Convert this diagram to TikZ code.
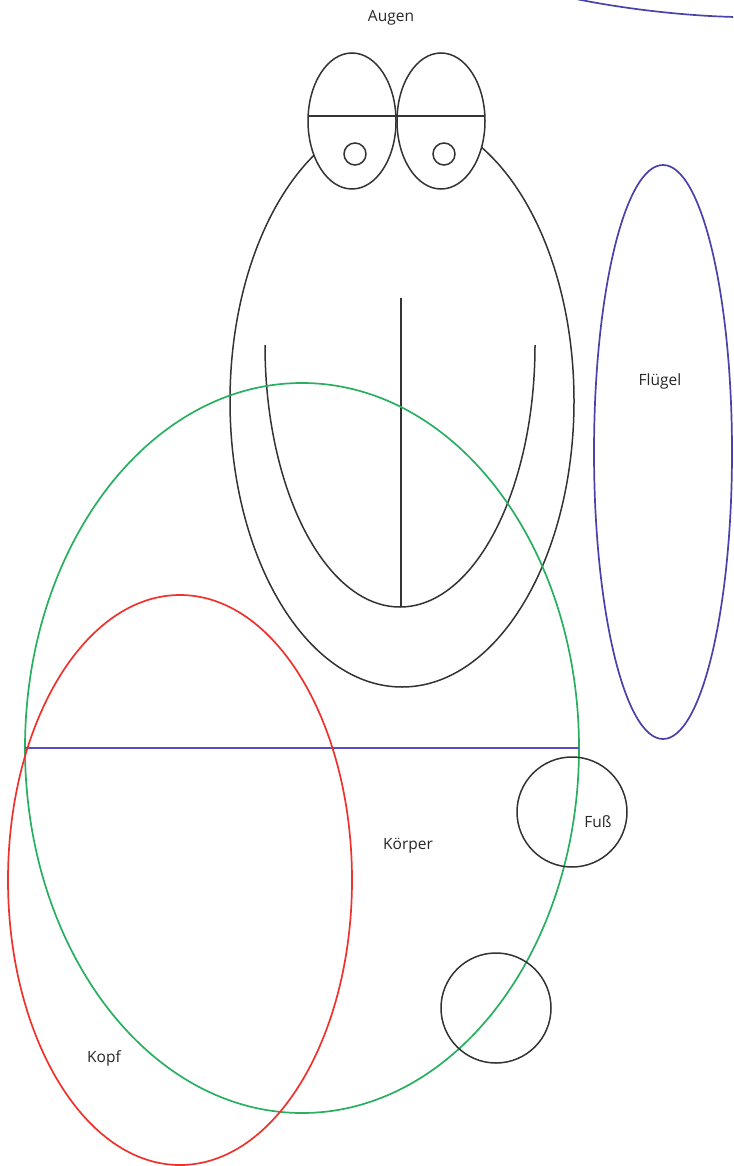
\documentclass[tikz,border=0pt]{standalone}
\usepackage{fontspec}
\setmainfont{Open Sans}
\begin{document}
\begin{tikzpicture}[x=1pt,y=-1pt,
  outl/.style={draw=black!80,line width=1.5pt},
  greenl/.style={draw={rgb,255:red,40;green,175;blue,95},line width=1.7pt},
  redl/.style={draw={rgb,255:red,240;green,50;blue,45},line width=1.7pt},
  bluel/.style={draw={rgb,255:red,85;green,80;blue,190},line width=1.7pt},
  purpl/.style={draw={rgb,255:red,75;green,65;blue,170},line width=1.7pt},
  lbl/.style={font=\fontsize{15.5}{17}\selectfont,text=black!85,inner sep=0pt}]
\useasboundingbox (0,0) rectangle (733,1166);
\clip (0,0) rectangle (733,1166);
% body
\draw[outl] (402,401) ellipse [x radius=172pt, y radius=286pt];
% mouth
\draw[outl] (265,345) arc[start angle=180, end angle=360, x radius=135pt, y radius=262pt];
\draw[outl] (401,298) -- (401,607);
% eyes
\draw[outl,fill=white] (352,121) ellipse [x radius=44pt, y radius=68pt];
\draw[outl,fill=white] (441,121) ellipse [x radius=44pt, y radius=68pt];
\draw[outl] (308,116) -- (485,116);
\draw[outl] (355,154) circle [radius=11pt];
\draw[outl] (444,154) circle [radius=11pt];
% wing
\draw[purpl] (663,452) ellipse [x radius=69pt, y radius=287pt];
% top-right arc
\draw[purpl] (576,-1) .. controls (630,10) and (690,16) .. (735,17);
% body green
\draw[greenl] (302,748) ellipse [x radius=277pt, y radius=365pt];
\draw[bluel] (25,748) -- (579,748);
% head red
\draw[redl] (180,880) ellipse [x radius=172pt, y radius=285pt];
% feet
\draw[outl] (572,812) circle [radius=55pt];
\draw[outl] (496,1008) circle [radius=55pt];
% labels
\node[lbl] (augen) at (391,18) {Augen};
\node[lbl] (fluegel) at (660,381) {Flügel};
\node[lbl] (koerper) at (408,846) {Körper};
\node[lbl] (fuss) at (598,822) {Fuß};
\node[lbl] (kopf) at (104,1058) {Kopf};
\end{tikzpicture}
\end{document}
